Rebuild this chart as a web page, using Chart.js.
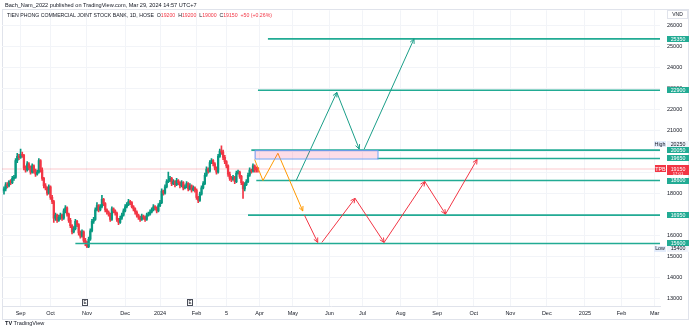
<!DOCTYPE html>
<html>
<head>
<meta charset="utf-8">
<script src="https://cdn.jsdelivr.net/npm/chart.js@4.4.1/dist/chart.umd.min.js"></script>
<style>
  body { margin: 0; background: #fff; font-family: "Liberation Sans", Arial, sans-serif; }
  #wrap { position: relative; width: 690px; height: 332px; overflow: hidden; }
  #chart { position: absolute; left: 0; top: 0; }
  #frame { position: absolute; left: 2px; top: 9px; width: 685px; height: 309px; border: 1px solid #e0e3eb; }
  .txt { position: absolute; white-space: nowrap; color: #131722; line-height: 8px; }
  .red { color: #f23645; }
</style>
</head>
<body>
<div id="wrap">
  <div id="frame"></div>
  <canvas id="chart" width="690" height="332"></canvas>
  <div class="txt" style="left:5px;top:1px;font-size:5.6px;">Bach_Nam_2022 published on TradingView.com, Mar 29, 2024 14:57 UTC+7</div>
  <div class="txt" style="left:7px;top:11px;font-size:5.2px;">TIEN PHONG COMMERCIAL JOINT STOCK BANK, 1D, HOSE&nbsp; O<span class="red">19200</span>&nbsp; H<span class="red">19200</span>&nbsp; L<span class="red">19000</span>&nbsp; C<span class="red">19150</span>&nbsp; <span class="red">+50 (+0.26%)</span></div>
  <div class="txt" style="left:5px;top:319px;font-size:5.6px;"><b>TV</b> TradingView</div>
</div>
<script>
// dữ liệu nến ngày (chỉ số phiên 0 = ~22/08/2023)
const opens = [18100,18200,18400,18350,18550,18500,18700,18750,19550,19750,
  19700,19850,19800,19200,19100,19400,19200,19000,19300,19050,
  18900,19000,19550,19100,18700,18350,18250,18000,18300,17800,
  17600,16800,16950,16700,16850,16950,16800,17150,17300,17000,
  16700,16450,16150,16300,16650,16500,16100,15950,16150,15750,
  15650,15450,15800,16200,16650,16750,17200,17400,17200,17350,
  17700,17500,17200,17100,17000,16750,17250,17150,17050,16750,
  16600,16800,16950,17150,17350,17450,17600,17550,17350,17250,
  17100,16950,16850,16750,16900,16850,16750,16950,17000,17100,
  17200,17350,17300,17150,17400,17550,18100,18000,18300,18550,
  18600,18700,18450,18550,18400,18600,18500,18350,18500,18250,
  18300,18450,18200,18350,18150,18250,18150,17800,17650,17950,
  18250,18450,18850,19150,19050,19450,19550,19400,19200,19000,
  19750,20000,19950,19700,19500,19300,18900,18700,18650,18750,
  18550,18950,19000,18800,18500,18200,18400,18550,18850,19100,
  19050,19300,19200,19200];
const closes = [18200,18400,18350,18550,18500,18700,18750,19550,19750,19700,
  19850,19800,19200,19100,19400,19200,19000,19300,19050,18900,
  19000,19550,19100,18700,18350,18250,18000,18300,17800,17600,
  16800,16950,16700,16850,16950,16800,17150,17300,17000,16700,
  16450,16150,16300,16650,16500,16100,15950,16150,15750,15650,
  15450,15800,16200,16650,16750,17200,17400,17200,17350,17700,
  17500,17200,17100,17000,16750,17250,17150,17050,16750,16600,
  16800,16950,17150,17350,17450,17600,17550,17350,17250,17100,
  16950,16850,16750,16900,16850,16750,16950,17000,17100,17200,
  17350,17300,17150,17400,17550,18100,18000,18300,18550,18600,
  18700,18450,18550,18400,18600,18500,18350,18500,18250,18300,
  18450,18200,18350,18150,18250,18150,17800,17650,17950,18250,
  18450,18850,19150,19050,19450,19550,19400,19200,19000,19750,
  20000,19950,19700,19500,19300,18900,18700,18650,18750,18550,
  18950,19000,18800,18500,18200,18400,18550,18850,19100,19050,
  19300,19100,19100,19150];
const highs = [18300,18500,18500,18600,18650,18800,18850,19650,19900,19850,
  20100,19950,19850,19300,19500,19450,19300,19400,19350,19150,
  19100,19650,19600,19200,18750,18450,18300,18400,18350,17900,
  17650,17050,17000,16950,17050,17000,17250,17400,17350,17050,
  16800,16500,16400,16750,16700,16550,16200,16250,16200,15850,
  15700,15900,16300,16750,16850,17300,17550,17450,17450,17900,
  17750,17550,17250,17150,17050,17350,17300,17200,17100,16800,
  16900,17050,17250,17450,17550,17700,17650,17600,17400,17300,
  17150,17000,16900,17000,16950,16900,17050,17100,17200,17300,
  17450,17400,17350,17500,17650,18200,18150,18400,18650,19000,
  18800,18750,18650,18600,18700,18650,18550,18600,18550,18400,
  18550,18500,18450,18400,18350,18300,18200,17850,18050,18350,
  18550,18950,19250,19200,19550,19650,19600,19450,19250,19850,
  20100,20250,20050,19800,19550,19350,19000,18800,18850,18800,
  19050,19100,19050,18850,18550,18500,18650,18950,19200,19150,
  19400,19350,19250,19200];
const lows = [17950,18100,18250,18300,18400,18450,18600,18700,19450,19600,
  19650,19700,19100,19000,19050,19100,18900,18950,18950,18800,
  18850,18950,19000,18600,18250,18150,17900,17950,17700,17500,
  16600,16700,16600,16650,16750,16700,16750,17050,16900,16600,
  16350,16050,16100,16250,16400,16000,15850,15900,15650,15500,
  15400,15400,15750,16150,16550,16700,17150,17100,17150,17300,
  17400,17100,17000,16900,16650,16700,17050,16950,16650,16500,
  16550,16750,16900,17100,17300,17400,17450,17300,17150,17000,
  16850,16750,16650,16700,16750,16650,16700,16900,16950,17050,
  17150,17200,17050,17100,17350,17500,17900,17950,18250,18500,
  18550,18350,18400,18300,18350,18400,18250,18300,18150,18200,
  18250,18100,18150,18050,18100,18050,17700,17550,17600,17900,
  18200,18400,18800,18950,19000,19400,19300,19100,18900,18950,
  19700,19850,19600,19400,19200,18800,18600,18550,18600,18450,
  18500,18900,18700,18400,17750,18100,18350,18500,18800,18950,
  19000,19000,19000,19000];

// trục thời gian (chỉ số phiên -> nhãn)
const xTickIdx = [10, 28, 50, 73, 94, 116, 134, 154, 174, 196, 216, 239, 261, 283, 305, 327, 350, 372, 392];
const xTickLabels = ["Sep", "Oct", "Nov", "Dec", "2024", "Feb", "5", "Apr", "May", "Jun", "Jul", "Aug", "Sep", "Oct", "Nov", "Dec", "2025", "Feb", "Mar"];
const yTickValues = [13000, 14000, 15000, 16000, 17000, 18000, 19000, 20000, 21000, 22000, 23000, 24000, 25000, 26000];

// các mức ngang đã vẽ
const levelPrices = [25350, 22900, 20050, 19650, 18600, 16950, 15600];
const levelStarts = [159, 153, 149, 225, 152, 147, 43];

// vùng chữ nhật
const zoneX = [151, 225];
const zoneY = [20050, 19650];

// các mũi tên kịch bản
const orangeX = [151, 156, 165, 180];
const orangeY = [19600, 18600, 19900, 17150];
const tealAX = [176, 200.5, 214];
const tealAY = [18600, 22800, 20100];
const tealBX = [217, 247];
const tealBY = [20100, 25350];
const redAX = [181, 189];
const redAY = [16950, 15650];
const redBX = [191.5, 211.5, 229, 253.5, 266, 285];
const redBY = [15650, 17750, 15650, 18550, 17000, 19600];

const lastPrice = 19150;
const highPrice = 20250;
const lowPrice = 15400;
const eventIdx = [49, 112];

const X_MIN = -1.2;
const X_MAX = 395.2;
const Y_MIN = 12619;
const Y_MAX = 26714;

const UP = "#089981";
const DOWN = "#f23645";
const LEVEL = "#22ab94";

const candleColors = closes.map((c, i) => (c >= opens[i] ? UP : DOWN));
const toPts = (xs, ys) => xs.map((v, i) => ({ x: v, y: ys[i] }));

const datasets = [];

// nến: râu + thân
datasets.push({
  type: "bar",
  data: closes.map((c, i) => ({ x: i, y: [lows[i], highs[i]] })),
  backgroundColor: candleColors,
  barThickness: 1,
  grouped: false,
  order: 10,
});
datasets.push({
  type: "bar",
  data: closes.map((c, i) => {
    const lo = Math.min(opens[i], c);
    const hi = Math.max(opens[i], c);
    return { x: i, y: [lo, hi === lo ? c + 20 : hi] };
  }),
  backgroundColor: candleColors,
  barThickness: 1.6,
  grouped: false,
  order: 9,
});

// đường giá hiện tại
datasets.push({
  type: "line",
  data: [{ x: X_MIN, y: lastPrice }, { x: X_MAX, y: lastPrice }],
  borderColor: "rgba(242,54,69,0.18)",
  borderWidth: 1.5,
  pointRadius: 0,
  order: 11,
});

levelPrices.forEach((p, i) => {
  datasets.push({
    type: "line",
    data: [{ x: levelStarts[i], y: p }, { x: X_MAX, y: p }],
    borderColor: LEVEL,
    borderWidth: 1.6,
    pointRadius: 0,
    order: 2,
  });
});

function pathSet(xs, ys, color, arrows) {
  return {
    type: "line",
    data: toPts(xs, ys),
    borderColor: color,
    borderWidth: 1,
    pointRadius: 0,
    tension: 0,
    arrows: arrows,
    order: 1,
  };
}
datasets.push(pathSet(orangeX, orangeY, "#ff9800", "last"));
datasets.push(pathSet(tealAX, tealAY, "#1a9e88", "all"));
datasets.push(pathSet(tealBX, tealBY, "#1a9e88", "all"));
datasets.push(pathSet(redAX, redAY, DOWN, "all"));
datasets.push(pathSet(redBX, redBY, DOWN, "all"));

function priceBox(ctx, yPix, text, bg, fg, left, w) {
  ctx.fillStyle = bg;
  ctx.fillRect(left, Math.round(yPix - 3), w, 6);
  ctx.fillStyle = fg;
  ctx.textAlign = "center";
  ctx.textBaseline = "middle";
  ctx.fillText(text, left + w / 2, yPix + 0.3);
}

const overlayPlugin = {
  id: "overlay",
  afterDatasetsDraw(chart) {
    const { ctx } = chart;
    const x = chart.scales.x;
    const y = chart.scales.y;
    ctx.save();
    // vùng chữ nhật
    const x0 = x.getPixelForValue(zoneX[0]);
    const x1 = x.getPixelForValue(zoneX[1]);
    const y0 = y.getPixelForValue(zoneY[0]);
    const y1 = y.getPixelForValue(zoneY[1]);
    ctx.fillStyle = "rgba(233,30,99,0.15)";
    ctx.fillRect(x0, y0, x1 - x0, y1 - y0);
    ctx.strokeStyle = "#6f9cf0";
    ctx.lineWidth = 1;
    ctx.strokeRect(x0 + 0.5, y0 + 0.5, x1 - x0, y1 - y0);

    // đầu mũi tên
    chart.data.datasets.forEach((ds, di) => {
      if (!ds.arrows) return;
      const pts = chart.getDatasetMeta(di).data;
      const from = ds.arrows === "all" ? 1 : pts.length - 1;
      ctx.strokeStyle = ds.borderColor;
      ctx.lineWidth = 1;
      for (let j = from; j < pts.length; j++) {
        const a = Math.atan2(pts[j].y - pts[j - 1].y, pts[j].x - pts[j - 1].x);
        ctx.beginPath();
        ctx.moveTo(pts[j].x - 5 * Math.cos(a - 0.45), pts[j].y - 5 * Math.sin(a - 0.45));
        ctx.lineTo(pts[j].x, pts[j].y);
        ctx.lineTo(pts[j].x - 5 * Math.cos(a + 0.45), pts[j].y - 5 * Math.sin(a + 0.45));
        ctx.stroke();
      }
    });
    ctx.restore();
  },
  afterDraw(chart) {
    const { ctx } = chart;
    const x = chart.scales.x;
    const y = chart.scales.y;
    ctx.save();
    ctx.font = "5.3px 'Liberation Sans', Arial, sans-serif";
    levelPrices.forEach((p) => {
      priceBox(ctx, y.getPixelForValue(p), String(p), LEVEL, "#fff", 667, 22);
    });
    // giá cao / thấp
    priceBox(ctx, y.getPixelForValue(highPrice) - 1.5, String(highPrice), "#f0f3fa", "#131722", 667, 22);
    priceBox(ctx, y.getPixelForValue(highPrice) - 1.5, "High", "#e3ecfb", "#131722", 654, 12);
    priceBox(ctx, y.getPixelForValue(lowPrice) + 1, String(lowPrice), "#f0f3fa", "#131722", 667, 22);
    priceBox(ctx, y.getPixelForValue(lowPrice) + 1, "Low", "#e3ecfb", "#131722", 654, 12);
    // giá hiện tại
    const yp = y.getPixelForValue(lastPrice);
    ctx.fillStyle = DOWN;
    ctx.fillRect(667, Math.round(yp - 3.5), 22, 10);
    ctx.fillRect(655, Math.round(yp - 3.5), 11, 7);
    ctx.fillStyle = "#fff";
    ctx.textAlign = "center";
    ctx.textBaseline = "middle";
    ctx.fillText(String(lastPrice), 678, yp + 0.3);
    ctx.fillText("TPB", 660.5, yp + 0.3);
    ctx.font = "4.2px 'Liberation Sans', Arial, sans-serif";
    ctx.fillText("17:01", 678, yp + 4.6);
    // VND
    ctx.font = "5px 'Liberation Sans', Arial, sans-serif";
    ctx.strokeStyle = "#e0e3eb";
    ctx.fillStyle = "#fff";
    ctx.fillRect(667, 10, 20, 8);
    ctx.strokeRect(667.5, 10.5, 20, 8);
    ctx.fillStyle = "#131722";
    ctx.fillText("VND", 677.5, 14.8);
    // sự kiện E
    eventIdx.forEach((e) => {
      const ex = Math.round(x.getPixelForValue(e));
      ctx.fillStyle = "#fff";
      ctx.fillRect(ex - 2.5, 299.5, 5, 6);
      ctx.strokeStyle = "#4a4e59";
      ctx.strokeRect(ex - 2.5, 299.5, 5, 6);
      ctx.fillStyle = "#131722";
      ctx.font = "4.5px 'Liberation Sans', Arial, sans-serif";
      ctx.fillText("E", ex, 302.8);
    });
    ctx.restore();
  },
};

Chart.defaults.font.family = "'Liberation Sans', Arial, sans-serif";

new Chart(document.getElementById("chart"), {
  type: "bar",
  data: { datasets: datasets },
  options: {
    responsive: false,
    animation: false,
    layout: { padding: { left: 2, top: 10, right: 0, bottom: 14 } },
    plugins: { legend: { display: false }, tooltip: { enabled: false } },
    scales: {
      x: {
        type: "linear",
        min: X_MIN,
        max: X_MAX,
        offset: false,
        afterBuildTicks: (axis) => {
          axis.ticks = xTickIdx.map((v) => ({ value: v }));
        },
        afterFit: (axis) => {
          axis.height = 12;
        },
        grid: { color: "#f2f4f8", drawTicks: false, offset: false },
        border: { color: "#e0e3eb" },
        ticks: {
          autoSkip: false,
          maxRotation: 0,
          padding: 4,
          color: "#131722",
          font: { size: 5.5 },
          callback: (v) => xTickLabels[xTickIdx.indexOf(v)],
        },
      },
      y: {
        type: "linear",
        position: "right",
        min: Y_MIN,
        max: Y_MAX,
        afterBuildTicks: (axis) => {
          axis.ticks = yTickValues.map((v) => ({ value: v }));
        },
        afterFit: (axis) => {
          axis.width = 30;
        },
        grid: { color: "#f2f4f8", drawTicks: false },
        border: { display: false },
        ticks: {
          padding: 7,
          color: "#131722",
          font: { size: 5.5 },
          callback: (v) => String(v),
        },
      },
    },
  },
  plugins: [overlayPlugin],
});
</script>
</body>
</html>
